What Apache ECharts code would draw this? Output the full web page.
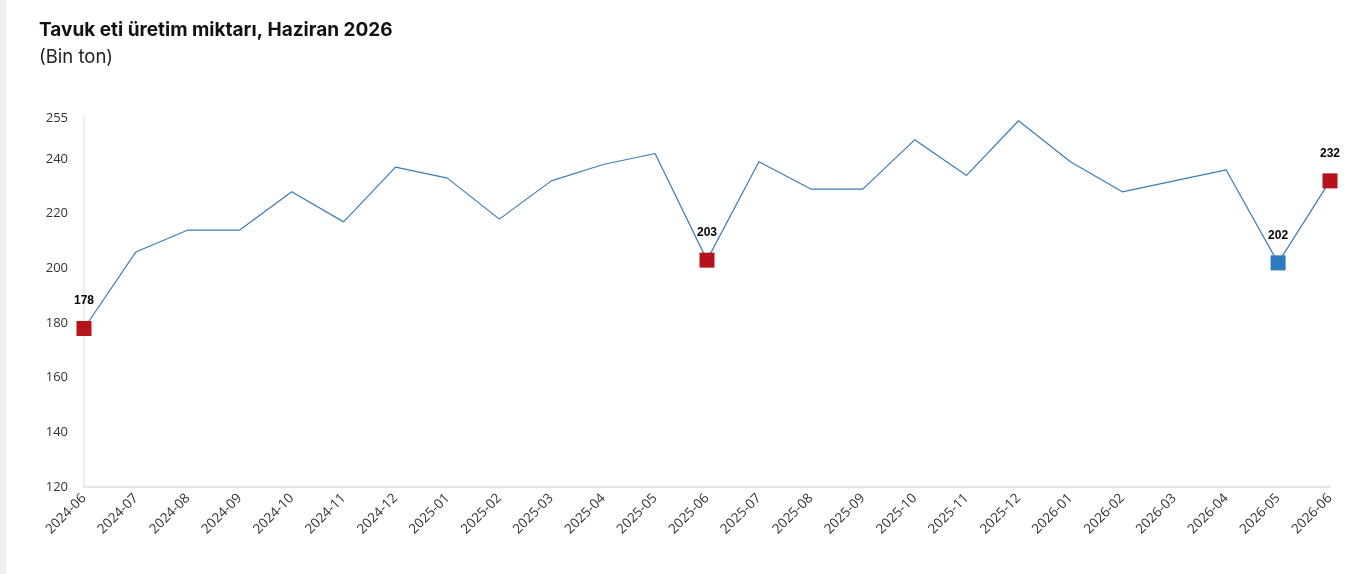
<!DOCTYPE html>
<html>
  <head>
    <meta charset="utf-8" />
    <title>Tavuk eti</title>
    <style>
      html,
      body {
        height: 100%;
        margin: 0;
        padding: 0;
        background: #fff;
      }
      #chart-container {
        position: absolute;
        left: 0;
        top: 0;
        width: 1370px;
        height: 574px;
      }
      #strip {
        position: absolute;
        left: 0;
        top: 0;
        width: 6px;
        height: 574px;
        background: #f0f0f0;
        z-index: 2;
      }
    </style>
    <script src="https://cdn.jsdelivr.net/npm/echarts@6/dist/echarts.min.js"></script>
  </head>
  <body>
    <div id="strip"></div>
    <div id="chart-container"></div>

    <script>
      // 月份
      var months = [
        "2024-06", "2024-07", "2024-08", "2024-09", "2024-10", "2024-11",
        "2024-12", "2025-01", "2025-02", "2025-03", "2025-04", "2025-05",
        "2025-06", "2025-07", "2025-08", "2025-09", "2025-10", "2025-11",
        "2025-12", "2026-01", "2026-02", "2026-03", "2026-04", "2026-05",
        "2026-06",
      ];
      // 产量 (Bin ton)
      var production = [
        178, 206, 214, 214, 228, 217, 237, 233, 218, 232, 238, 242,
        203, 239, 229, 229, 247, 234, 254, 239, 228, 232, 236, 202, 232,
      ];
      // 高亮的点: 索引 -> 颜色
      var highlightIdx = [0, 12, 23, 24];
      var highlightColor = ["#b5121b", "#b5121b", "#2e7bbf", "#b5121b"];

      var yMin = 120;
      var yMax = 255;
      var yStep = 20;

      var seriesData = production.map(function (v, i) {
        var k = highlightIdx.indexOf(i);
        if (k < 0) {
          return { value: v, symbolSize: 0 };
        }
        return {
          value: v,
          symbol: "rect",
          symbolSize: 15,
          itemStyle: { color: highlightColor[k] },
          label: {
            show: true,
            position: "top",
            distance: 14,
            color: "#000",
            fontWeight: "bold",
            fontSize: 12,
            fontFamily: "Liberation Sans, Arial, sans-serif",
          },
        };
      });

      var myChart = echarts.init(document.getElementById("chart-container"), "", {
        renderer: "canvas",
      });

      var option = {
        animation: false,
        title: {
          text: "Tavuk eti üretim miktarı, Haziran 2026",
          subtext: "(Bin ton)",
          left: 34,
          top: 16,
          itemGap: 8,
          textStyle: {
            fontFamily: "Inter, sans-serif",
            fontSize: 19,
            fontWeight: "bold",
            color: "#111",
          },
          subtextStyle: {
            fontFamily: "Inter, sans-serif",
            fontSize: 18.5,
            color: "#222",
          },
        },
        grid: {
          left: 84,
          right: 40,
          top: 118,
          bottom: 87,
          outerBoundsMode: "none",
        },
        xAxis: {
          type: "category",
          data: months,
          boundaryGap: false,
          axisLine: { lineStyle: { color: "#e4e4e4", width: 2 } },
          axisTick: { show: false },
          axisLabel: {
            rotate: 45,
            interval: 0,
            margin: 9,
            fontSize: 13.5,
            color: "#333",
            fontFamily: "Open Sans, sans-serif",
          },
        },
        yAxis: {
          type: "value",
          min: yMin,
          max: yMax,
          interval: yStep,
          axisLine: { show: true, lineStyle: { color: "#ebebeb", width: 2 } },
          axisTick: { show: false },
          splitLine: { show: false },
          axisLabel: {
            margin: 16,
            fontSize: 13,
            color: "#333",
            fontFamily: "Open Sans, sans-serif",
          },
        },
        series: [
          {
            type: "line",
            data: seriesData,
            showSymbol: true,
            symbol: "rect",
            lineStyle: { color: "#3b7db3", width: 1.2 },
            itemStyle: { color: "#3b7db3" },
            emphasis: { disabled: true },
          },
        ],
      };
      myChart.setOption(option);
    </script>
  </body>
</html>
